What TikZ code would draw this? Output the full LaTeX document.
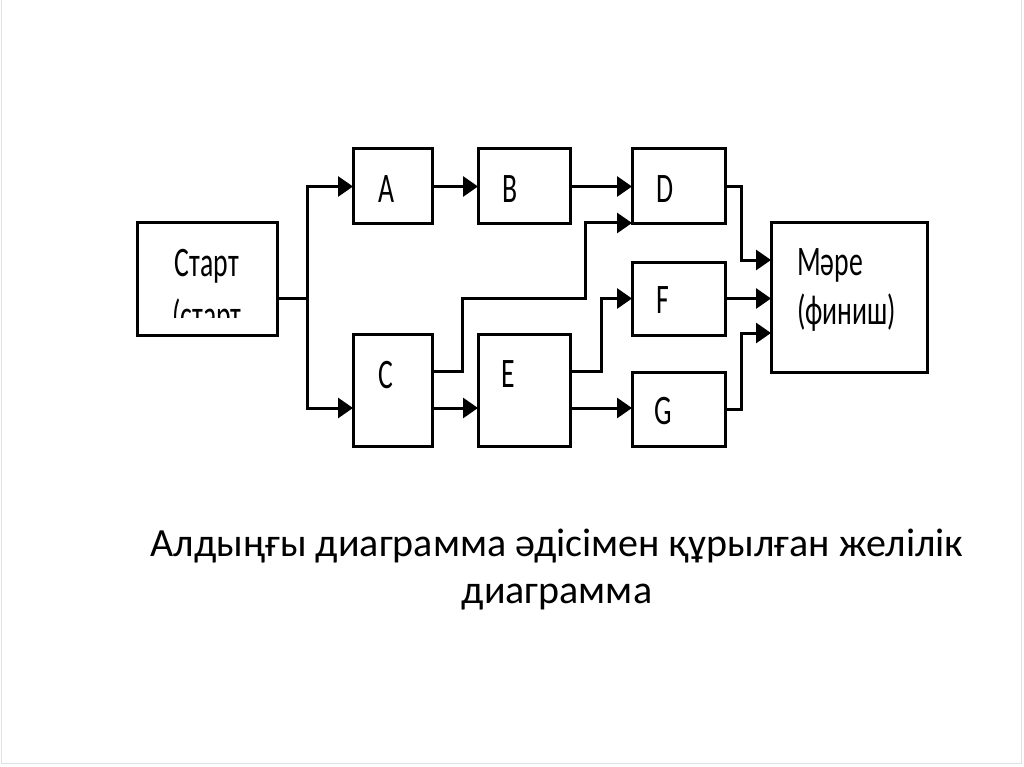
\documentclass[tikz,border=0pt]{standalone}
\usepackage{fontspec}
\setmainfont{Carlito}
\newfontfamily\boxfont[FakeStretch=0.66]{Carlito}
\usetikzlibrary{arrows.meta,calc}
\begin{document}
\begin{tikzpicture}[x=1pt,y=-1pt,
  box/.style={draw=black, line width=3pt, fill=white, inner sep=0pt, outer sep=0pt},
  lbl/.style={font=\boxfont\fontsize{42}{46}\selectfont, anchor=base, inner sep=0pt},
  arr/.style={line width=3pt, -{Triangle[length=15pt,width=20pt]}}
]
\useasboundingbox (0,0) rectangle (1024,767);
\fill[white] (0,0) rectangle (1024,767);
\draw[black!12, line width=1pt] (1.5,0) -- (1.5,763) -- (1021,763) -- (1021,0);

% boxes
\node[box, minimum width=140pt, minimum height=112pt] (S) at (207,279) {};
\node[box, minimum width=79pt, minimum height=75pt] (A) at (392.5,186.5) {};
\node[box, minimum width=92pt, minimum height=75pt] (B) at (524,186.5) {};
\node[box, minimum width=93pt, minimum height=75pt] (D) at (678.5,186.5) {};
\node[box, minimum width=79pt, minimum height=112pt] (C) at (392.5,390) {};
\node[box, minimum width=92pt, minimum height=112pt] (E) at (524,390) {};
\node[box, minimum width=93pt, minimum height=73pt] (F) at (678.5,298.5) {};
\node[box, minimum width=93pt, minimum height=74pt] (G) at (678.5,409) {};
\node[box, minimum width=156pt, minimum height=149pt] (M) at (849,297.5) {};

% labels
\node[lbl] (tA) at (387,203) {A};
\node[lbl] (tB) at (510,203) {B};
\node[lbl] (tD) at (665,203) {D};
\node[lbl] (tC) at (386,388) {C};
\node[lbl] (tE) at (508,387) {E};
\node[lbl] (tF) at (663,313) {F};
\node[lbl] (tG) at (663,424) {G};
\node[lbl] (tS1) at (207,276) {Старт};
\begin{scope}
  \clip (139,290) rectangle (275,317);
  \node[lbl] (tS2) at (207,329) {(старт};
\end{scope}
\node[lbl, anchor=base west] (tM1) at (797,275) {Мәре};
\node[lbl, anchor=base west] (tM2) at (797,324) {(финиш)};

% connectors
\draw[arr] ([yshift=-19pt]S.east) -- ++(30,0) |- (A.west);
\draw[arr] ([yshift=-19pt]S.east) -- ++(30,0) |- ([yshift=-18pt]C.west);
\draw[arr] (A.east) -- (B.west);
\draw[arr] (B.east) -- (D.west);
\draw[arr] ([yshift=19pt]C.east) -- ++(30,0) -- ++(0,-73) -- ++(123,0) |- ([yshift=-36.5pt]D.west);
\draw[arr] ([yshift=-18pt]C.east) -- ([yshift=-18pt]E.west);
\draw[arr] ([yshift=19pt]E.east) -- ++(31,0) |- (F.west);
\draw[arr] ([yshift=-18pt]E.east) -- ([yshift=-18pt]E.east -| G.west);
\draw[arr] (D.east) -- ++(16,0) |- ([yshift=37.5pt]M.west);
\draw[arr] (F.east) -- (F.east -| M.west);
\draw[arr] (G.east) -- ++(16,0) |- ([yshift=-35.5pt]M.west);

% caption
\node[font=\fontsize{40}{47}\selectfont, align=center, anchor=base, inner sep=0pt, text=black] (cap) at (557,603)
  {Алдыңғы диаграмма әдісімен құрылған желілік\\диаграмма};
\end{tikzpicture}
\end{document}
